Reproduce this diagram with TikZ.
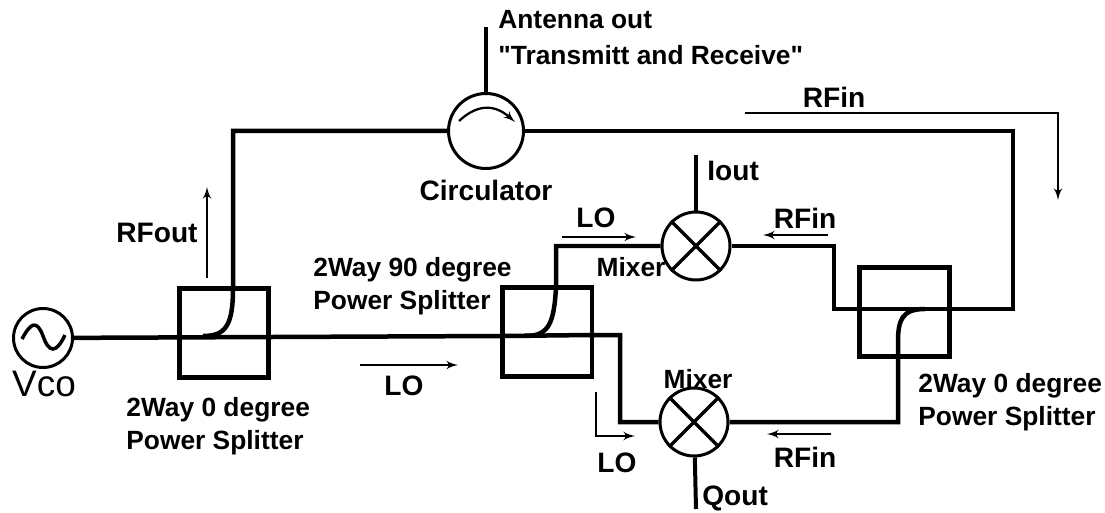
\documentclass[tikz,border=0pt]{standalone}
\usepackage{fontspec}
\setmainfont{Liberation Sans}
\newfontfamily\quotefont{Liberation Sans}
\usepackage{tikz}
\usetikzlibrary{arrows}
\tikzset{
circ/.style = {circle, draw, line width=0.06cm, minimum size=1.36cm, inner sep=0pt},
splitter/.style = {rectangle, draw, line width=0.1cm, minimum width=1.8cm, minimum height=1.8cm, inner sep=0pt},
line/.style = {draw, line width=0.09cm},
signal/.style = {draw, line width=0.045cm, -latex'},
txt/.style = {font=\fontsize{16}{18}\selectfont\bfseries, inner sep=0pt, align=left},
txts/.style = {font=\fontsize{15}{17}\selectfont\bfseries, inner sep=0pt, align=left},
coord/.style = {coordinate}
}
\begin{document}
\begin{tikzpicture}[x=0.02cm, y=-0.02cm, node distance=1cm]
    \useasboundingbox (0,0) rectangle (1105,513);
    \node [circ, minimum size=1.18cm] (vco) at (43,338) {};
    \node [splitter] (splita) at (224,333) {};
    \node [splitter] (splitb) at (547,332) {};
    \node [splitter] (splitc) at (904,312) {};
    \node [circ, minimum size=1.5cm] (circu) at (486,131) {};
    \node [circ] (mixi) at (696,246) {};
    \node [circ] (mixq) at (694,422) {};

    \node [coord] (ant) at (486,27) {};
    \node [coord] (iout) at (696,155) {};
    \node [coord] (qout) at (696,509) {};
    \node [coord] (c1) at (233,288) {};
    \node [coord] (c3) at (556,287) {};
    \node [coord] (c4) at (620,335) {};
    \node [coord] (c5) at (834,309) {};
    \node [coord] (c6) at (1013,309) {};
    \node [coord] (c7) at (898,358) {};
    \node [coord] (c8) at (502,336) {};
    \node [coord] (c9) at (591,335) {};

    % main lines
    \path [line] (vco) -- (c8) -- (c9) -| (c4) |- (mixq);
    \path [line] (circu.east) -| (c6) -- (c5) |- (mixi.east);
    \path [line] (mixi.west) -| (c3) .. controls (554,325) and (548,336) .. (525,336);
    \path [line] (circu.west) -| (c1) .. controls (233,325) and (226,336) .. (203,336);
    \path [line] (mixq.east) -| (c7) -- (898,342) .. controls (898,320) and (902,309) .. (925,309);
    \path [line, line width=0.08cm] (circu) -- (ant);
    \path [line, line width=0.08cm] (mixi) -- (iout);
    \path [line, line width=0.08cm] (mixq) -- (qout);

    % symbols inside the circles
    \foreach \mix in {mixi,mixq} {
        \draw [line width=0.07cm] (\mix.45) -- (\mix.225);
        \draw [line width=0.07cm] (\mix.135) -- (\mix.315);
    }
    \draw [line width=0.07cm] (22,339) .. controls (31,322) and (37,320) .. (43,336) .. controls (49,353) and (56,354) .. (65,335);
    \draw [signal] (459,121) .. controls (472,109) and (490,100) .. (515,122);

    % signal arrows
    \draw [signal] (207,278) -- (207,187);
    \draw [signal] (360,365) -- (458,365);
    \draw [signal] (562,237) -- (636,237);
    \draw [signal] (828,235) -- (763,235);
    \draw [signal] (831,434) -- (767,434);
    \draw [signal] (596,392) |- (635,436);
    \draw [signal] (745,113) -| (1058,200);

    % labels
    \node [txt, font=\fontsize{21}{24}\selectfont] (vcotxt) at (44,384) {Vco};
    \node [txts, anchor=west] (anttxt) at (498,20) {Antenna out};
    \node [txts, anchor=west] (transtxt) at (498,55) {\quotefont"Transmitt and Receive"};
    \node [txt, below of=circu, node distance=1.18cm] (circtxt) {Circulator};
    \node [txt] (rfintop) at (834,97) {RFin};
    \node [txt] (rfouttxt) at (157,233) {RFout};
    \node [txt, anchor=west] (iouttxt) at (707,171) {Iout};
    \node [txt, anchor=west] (qouttxt) at (702,498) {Qout};
    \node [txt] (loa) at (596,218) {LO};
    \node [txt] (lob) at (404,386) {LO};
    \node [txt] (loc) at (617,463) {LO};
    \node [txt] (rfina) at (805,218) {RFin};
    \node [txt] (rfinb) at (805,457) {RFin};
    \node [txts] (mixitxt) at (631,267) {Mixer};
    \node [txts] (mixqtxt) at (698,379) {Mixer};
    \node [txts, anchor=west] (splatxt) at (126,426) {2Way 0 degree\\[0.06cm]Power Splitter};
    \node [txts, anchor=west] (splbtxt) at (313,286) {2Way 90 degree\\[0.06cm]Power Splitter};
    \node [txts, anchor=west] (splctxt) at (918,402) {2Way 0 degree\\[0.06cm]Power Splitter};
\end{tikzpicture}
\end{document}
